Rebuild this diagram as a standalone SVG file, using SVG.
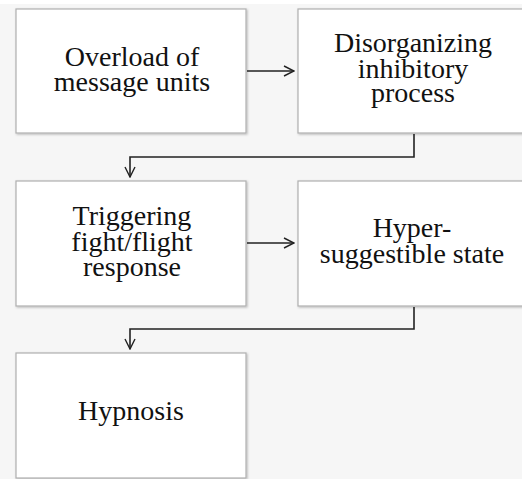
<svg xmlns="http://www.w3.org/2000/svg" width="522" height="479" viewBox="0 0 522 479">
<defs>
<marker id="arr" viewBox="0 0 12 12" refX="11" refY="6" markerWidth="12" markerHeight="12" markerUnits="userSpaceOnUse" orient="auto">
<path d="M1,1 L11,6 L1,11" fill="none" stroke="#222" stroke-width="1.4"/>
</marker>
<filter id="sh" x="-5%" y="-5%" width="115%" height="115%">
<feDropShadow dx="1" dy="1" stdDeviation="0.8" flood-color="#000" flood-opacity="0.25"/>
</filter>
</defs>
<style>
.box{fill:#fff;stroke:#b0b0b0;stroke-width:1.2;filter:url(#sh)}
.t{font-size:28px;fill:#111;text-anchor:middle}
.c{fill:none;stroke:#222;stroke-width:1.6}
</style>
<rect x="0" y="0" width="522" height="479" fill="#f6f6f6"/>
<rect x="0" y="0" width="522" height="4" fill="#fff"/>
<g id="n1" font-family="'Liberation Serif', 'DejaVu Serif', serif">
<rect class="box" x="16" y="9" width="230" height="124"/>
<text class="t" x="132" y="66">Overload of</text>
<text class="t" x="132" y="91">message units</text>
</g>
<g id="n2" font-family="'Liberation Serif', 'DejaVu Serif', serif">
<rect class="box" x="298" y="9" width="232" height="124"/>
<text class="t" x="413" y="52">Disorganizing</text>
<text class="t" x="413" y="78">inhibitory</text>
<text class="t" x="413" y="102">process</text>
</g>
<g id="n3" font-family="'Liberation Serif', 'DejaVu Serif', serif">
<rect class="box" x="16" y="181" width="230" height="125"/>
<text class="t" x="132" y="225">Triggering</text>
<text class="t" x="132" y="251">fight/flight</text>
<text class="t" x="132" y="276">response</text>
</g>
<g id="n4" font-family="'Liberation Serif', 'DejaVu Serif', serif">
<rect class="box" x="298" y="181" width="232" height="125"/>
<text class="t" x="412" y="237">Hyper-</text>
<text class="t" x="412" y="263">suggestible state</text>
</g>
<g id="n5" font-family="'Liberation Serif', 'DejaVu Serif', serif">
<rect class="box" x="16" y="353" width="230" height="125"/>
<text class="t" x="131" y="420">Hypnosis</text>
</g>
<g id="connectors">
<path class="c" d="M247,71 H294" marker-end="url(#arr)"/>
<path class="c" d="M414,134 V157 H130 V177" marker-end="url(#arr)"/>
<path class="c" d="M247,243 H294" marker-end="url(#arr)"/>
<path class="c" d="M414,307 V329 H130 V349" marker-end="url(#arr)"/>
</g>
</svg>
